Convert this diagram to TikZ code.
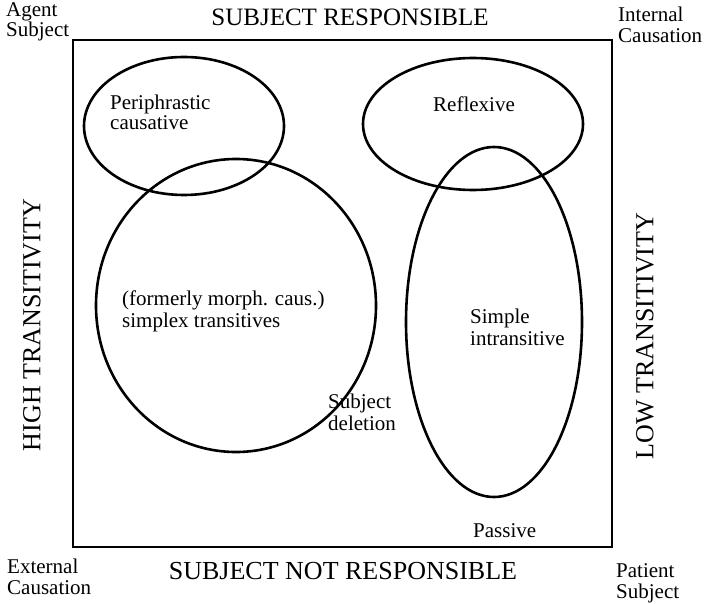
\documentclass[tikz,border=0pt]{standalone}
\usepackage{fontspec}
\setmainfont{Liberation Serif}
\begin{document}
\begin{tikzpicture}[x=1pt,y=-1pt,
  big/.style={inner sep=0pt,font=\fontsize{25}{30}\selectfont},
  lab/.style={inner sep=0pt,align=left,font=\fontsize{21}{21}\selectfont},
  blob/.style={line width=2.6pt},
  frame/.style={line width=2pt}]
\useasboundingbox (0,0) rectangle (709,604);
\draw[frame] (73,40) rectangle (612,547);
% ellipses
\draw[blob] (184,126) ellipse [x radius=100, y radius=69];
\draw[blob] (473,124) ellipse [x radius=110, y radius=66];
\draw[blob] (236,305.5) ellipse [x radius=140, y radius=146.5];
\draw[blob] (494,322) ellipse [x radius=88, y radius=175];
% titles
\node[big,anchor=base] (top) at (350,26) {SUBJECT RESPONSIBLE};
\node[big,anchor=base,font=\fontsize{26}{30}\selectfont] (bot) at (343,579) {SUBJECT NOT RESPONSIBLE};
\node[big,rotate=90,font=\fontsize{26}{30}\selectfont] (high) at (32,325) {HIGH TRANSITIVITY};
\node[big,rotate=90,font=\fontsize{26}{30}\selectfont] (low) at (645,336) {LOW TRANSITIVITY};
% corners
\node[lab,anchor=base west,font=\fontsize{21}{18}\selectfont] (agent) at (6,37) {Agent\\Subject};
\node[lab,anchor=base west] (intc) at (618,43) {Internal\\Causation};
\node[lab,anchor=base west] (extc) at (7,594) {External\\Causation};
\node[lab,anchor=base west] (pat) at (616,598) {Patient\\Subject};
% inner labels
\node[lab,anchor=base west,font=\fontsize{21}{20}\selectfont] (peri) at (110,130) {Periphrastic\\causative};
\node[lab,anchor=base west] (refl) at (433,112) {Reflexive};
\node[lab,anchor=base west,font=\fontsize{21}{22}\selectfont] (simp) at (122,327) {(formerly morph. caus.)\\simplex transitives};
\node[lab,anchor=base west,font=\fontsize{21}{22}\selectfont] (intr) at (470,345) {Simple\\intransitive};
\node[lab,anchor=base west,font=\fontsize{21}{22}\selectfont] (del) at (328,430) {Subject\\deletion};
\node[lab,anchor=base west] (pass) at (473,537) {Passive};
\end{tikzpicture}
\end{document}
